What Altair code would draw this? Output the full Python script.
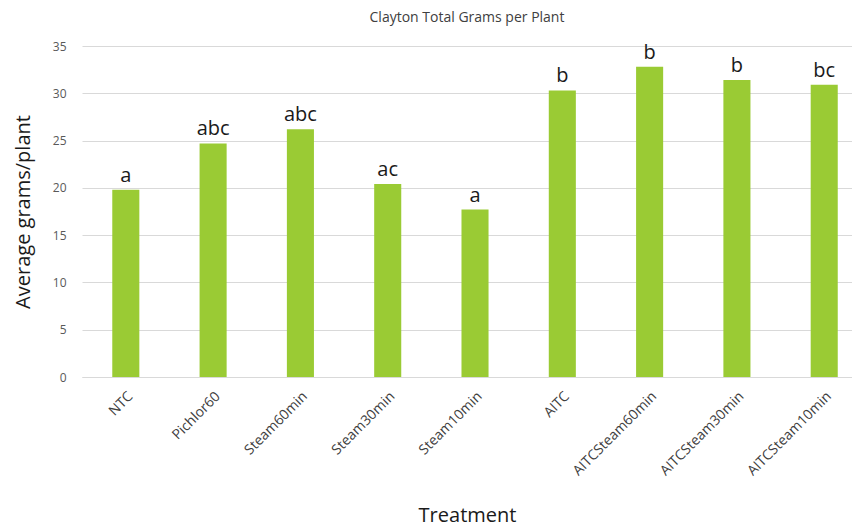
import altair as alt
import pandas as pd

treatments = ["NTC", "Pichlor60", "Steam60min", "Steam30min", "Steam10min",
              "AITC", "AITCSteam60min", "AITCSteam30min", "AITCSteam10min"]
grams = [19.8, 24.7, 26.2, 20.4, 17.7, 30.3, 32.8, 31.4, 30.9]
letters = ["a", "abc", "abc", "ac", "a", "b", "b", "b", "bc"]

df = pd.DataFrame({"Treatment": treatments, "grams": grams, "letter": letters})

FONT = "Open Sans"

x = alt.X("Treatment:N", sort=treatments,
          scale=alt.Scale(paddingInner=0.69, paddingOuter=0.255, align=0.68),
          axis=alt.Axis(title="Treatment", labelAngle=-45, labelFontSize=14,
                        labelColor="#404040", labelFont=FONT, labelPadding=12,
                        ticks=False, domainColor="#d9d9d9", titleFontSize=20,
                        titleFont=FONT, titleFontWeight="normal", titleColor="#1a1a1a",
                        titlePadding=28))
y = alt.Y("grams:Q", scale=alt.Scale(domain=[0, 35], nice=False),
          axis=alt.Axis(title="Average grams/plant", values=[0, 5, 10, 15, 20, 25, 30, 35],
                        labelFontSize=12, labelColor="#595959", labelFont=FONT,
                        labelPadding=16, ticks=False, domain=False, gridColor="#d9d9d9",
                        titleFontSize=20, titleFont=FONT, titleFontWeight="normal",
                        titleColor="#1a1a1a", titlePadding=19))

bars = alt.Chart(df).mark_bar(color="#9acb34").encode(x=x, y=y)
text = alt.Chart(df).mark_text(baseline="bottom", dy=-4, fontSize=20, font=FONT,
                               color="#1a1a1a").encode(x=x, y=y, text="letter:N")

chart = (bars + text).properties(
    width=770, height=331,
    title=alt.TitleParams("Clayton Total Grams per Plant", fontSize=14, font=FONT,
                          fontWeight="normal", color="#404040", offset=15),
    padding={"left": 5, "top": 3, "right": 0, "bottom": 2},
).configure_view(stroke=None)

chart.save("out.html", embed_options={"renderer": "svg", "actions": False})
